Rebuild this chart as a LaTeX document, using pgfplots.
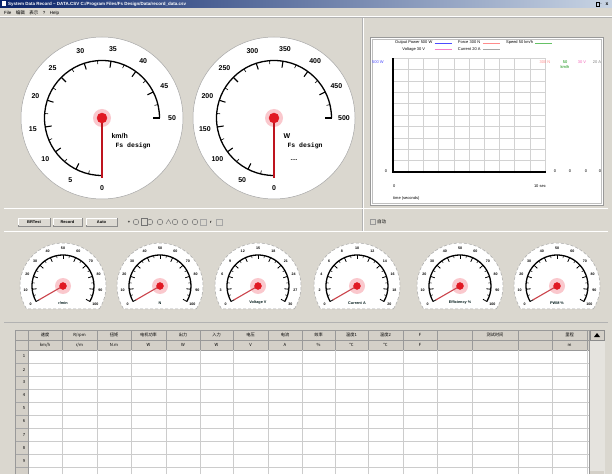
\documentclass[border=0pt]{standalone}
\usepackage{pgfplots}
\usepackage{pgfplotstable}
\pgfplotsset{compat=1.18}
\usepackage{fontspec}
\setmainfont{Liberation Sans}
\setmonofont{Liberation Mono}
\newfontfamily\cjk{Noto Sans CJK SC}
\definecolor{winbg}{RGB}{218,215,207}
\definecolor{hdrbg}{RGB}{212,208,200}
\definecolor{titleA}{RGB}{10,36,106}
\definecolor{titleB}{RGB}{200,212,228}
\definecolor{needle}{RGB}{190,20,30}
\definecolor{hub}{RGB}{225,25,35}
\definecolor{glow}{RGB}{250,200,205}

% gauge values (current readings)
\def\valA{0}   % km/h
\def\valB{0}   % W
\pgfplotstableread{
id max value
1 100 0
2 100 0
3 30 0
4 20 0
5 100 0
6 100 0
}\smallgauges

\newcommand\biggauge[6]{% cx cy max unit extra value
\begin{scope}[shift={(#1,#2)}]
 \fill[white] (0,0) circle (81);
 \draw[gray!70,line width=0.5pt] (0,0) circle (81);
 \draw[line width=1.3pt] (0,-57.5) arc[start angle=-90,end angle=-360,radius=57.5];
 \foreach \i in {0,...,10}{
   \draw[line width=1.1pt] ({270-27*\i}:57.5) -- ({270-27*\i}:51);
   \pgfmathtruncatemacro\v{\i*#3/10}
   \node[font=\fontsize{7}{8}\selectfont\bfseries] at ({270-27*\i}:70) {\v};
 }
 \foreach \i in {0,...,9}{
   \draw[line width=0.6pt] ({270-27*\i-13.5}:57.5) -- ({270-27*\i-13.5}:54);
 }
 \fill[glow] (0,0) circle (9);
 \node[anchor=west,font=\fontsize{7}{8}\selectfont\bfseries] at (6,-18) {#4};
 \node[anchor=west,font=\fontsize{6.5}{7}\selectfont\ttfamily\bfseries] at (10,-28) {Fs design};
 #5
\end{scope}
\begin{axis}[at={(#1pt,#2pt)},anchor=center,scale only axis,width=162pt,height=162pt,
  xmin=-81,xmax=81,ymin=-81,ymax=81,hide axis,clip=false]
 \addplot[data cs=polar,needle,line width=1.3pt] coordinates {(0,0) ({270-270*#6/#3},60)};
 \addplot[only marks,mark=*,mark size=5pt,hub,mark options={draw=hub}] coordinates {(0,0)};
\end{axis}
}

\newcommand\smallgauge[5]{% cx cy max label value
\begin{scope}[shift={(#1,#2)}]
 \fill[white] (-32.3:43) arc[start angle=-32.3,end angle=212.3,radius=43] -- cycle;
 \draw[gray!70,line width=0.5pt,densely dashed] (-32.3:43) arc[start angle=-32.3,end angle=212.3,radius=43] -- cycle;
 \fill[glow] (0,0) circle (8);
 \draw[line width=1.3pt] (210:31) arc[start angle=210,end angle=-30,radius=31];
 \foreach \i in {0,...,10}{
   \draw[line width=0.8pt] ({210-24*\i}:31) -- ({210-24*\i}:26.5);
   \pgfmathtruncatemacro\v{\i*#3/10}
   \node[font=\fontsize{3.6}{4}\selectfont\bfseries] at ({210-24*\i}:37.5) {\v};
 }
 \foreach \i in {0,...,9}{
   \draw[line width=0.5pt] ({210-24*\i-12}:31) -- ({210-24*\i-12}:28.5);
 }
 \node[font=\fontsize{3.8}{4}\selectfont\bfseries,text=black!80!teal] at (0,-17) {#4};
\end{scope}
\begin{axis}[at={(#1pt,#2pt)},anchor=center,scale only axis,width=86pt,height=86pt,
  xmin=-43,xmax=43,ymin=-43,ymax=43,hide axis,clip=false]
 \addplot[data cs=polar,needle!80!white,line width=1.1pt] coordinates {(0,0) ({210-240*#5/#3},28)};
 \addplot[only marks,mark=*,mark size=3.5pt,hub,mark options={draw=hub}] coordinates {(0,0)};
\end{axis}
}

\begin{document}
\begin{tikzpicture}[x=1pt,y=1pt]
\useasboundingbox (0,0) rectangle (612,474);
% window background
\fill[winbg] (0,0) rectangle (612,474);
% title bar
\shade[left color=titleA,right color=titleB] (0,466) rectangle (612,474);
\node[anchor=west,text=white,font=\fontsize{4.5}{5}\selectfont\bfseries,inner sep=0pt] at (8,470) {System Data Record -- DATA.CSV  C:/Program Files/Fs Design/Data/record\_data.csv};
\fill[white] (1.5,467.5) rectangle (6,472.5);
\node[anchor=east,font=\fontsize{5}{5}\selectfont\bfseries,inner sep=0pt] at (602,470) {\_};
\draw[black,line width=0.4pt] (596,467.5) rectangle (599.5,471.5);
\node[font=\fontsize{5}{5}\selectfont\bfseries,inner sep=0pt] at (607,470) {x};
% menu bar
\node[anchor=west,font=\fontsize{4.5}{5}\selectfont,inner sep=0pt] at (4,461) {File\quad {\cjk 编辑}\quad {\cjk 表示}\quad ?\quad Help};
\draw[white] (0,457.5) -- (612,457.5);
\draw[gray!60] (0,457) -- (612,457);
% separators
\draw[gray!60] (362,243) -- (362,456);
\draw[white] (363,243) -- (363,456);
\draw[gray!60] (4,266) -- (608,266);
\draw[white] (4,265.5) -- (608,265.5);
\draw[gray!60] (4,243) -- (608,243);
\draw[white] (4,242.5) -- (608,242.5);
\draw[gray!60] (4,152) -- (608,152);

% big gauges
\biggauge{102}{356}{50}{km/h}{}{\valA}
\biggauge{274}{356}{500}{W}{\node[font=\fontsize{6}{6}\selectfont\bfseries] at (20,-42) {....};}{\valB}

% chart panel
\fill[white] (370,269) rectangle (603,437);
\draw[gray!80,line width=0.6pt] (370,269) rectangle (603,437);
\draw[gray!50] (372,271) rectangle (601,435);
\begin{axis}[at={(393pt,302pt)},anchor=south west,scale only axis,width=152pt,height=114pt,
  xmin=0,xmax=10,ymin=0,ymax=10,axis lines=left,axis on top,
  axis line style={-,line width=1.3pt},
  xtick={0,...,10},ytick={0,...,10},xticklabels={},yticklabels={},
  grid=major,major grid style={gray!35,line width=0.35pt},
  tick style={black,line width=0.6pt},major tick length=2.5pt,
  legend columns=3,legend plot pos=right,
  legend style={at={(0,1.035)},anchor=south west,draw=none,fill=none,
    font=\fontsize{4}{4.5}\selectfont,inner sep=0pt,row sep=-2pt,
    /tikz/every even column/.append style={column sep=4pt}},
  legend image post style={line width=0.5pt}]
 \addplot[blue!70,line width=0.5pt] coordinates {(0,0) (10,0)};
 \addlegendentry{Output Power 500 W}
 \addplot[red!45,line width=0.5pt] coordinates {(0,0) (10,0)};
 \addlegendentry{Force 300 N}
 \addplot[green!60!black!60,line width=0.5pt] coordinates {(0,0) (10,0)};
 \addlegendentry{Speed 50 km/h}
 \addplot[magenta!50,line width=0.5pt] coordinates {(0,0) (10,0)};
 \addlegendentry{Voltage 30 V}
 \addplot[gray!70,line width=0.5pt] coordinates {(0,0) (10,0)};
 \addlegendentry{Current 20 A}
\end{axis}
\begin{scope}[font=\fontsize{4}{4.5}\selectfont,inner sep=0pt]
 \node[anchor=west,text=blue!70] at (372,412) {500 W};
 \node[text=red!45] at (545,412) {300 N};
 \node[text=green!55!black] at (565,412) {50};
 \node[text=green!55!black] at (565,407) {km/h};
 \node[text=magenta!60] at (582,412) {30 V};
 \node[text=gray] at (597,412) {20 A};
 \node at (386,303) {0};
 \node at (555,303) {0};
 \node at (570,303) {0};
 \node at (586,303) {0};
 \node at (600,303) {0};
 \node[anchor=west] at (393,288) {0};
 \node[anchor=east] at (546,288) {10 sec};
 \node[anchor=west] at (393,276) {time (seconds)};
\end{scope}

% button row
\begin{scope}[font=\fontsize{4}{4.5}\selectfont\bfseries,inner sep=0pt]
 \foreach \xa/\xb/\t in {18/50/BRTest,53/82/Record,86/117/Auto}{
   \fill[hdrbg!80!white] (\xa,248) rectangle (\xb,256);
   \draw[gray!90] (\xa,248) rectangle (\xb,256);
   \draw[white] (\xa+0.5,248.5) -- (\xa+0.5,255.5) -- (\xb-0.5,255.5);
   \node at ({(\xa+\xb)/2},252) {\t};
 }
 \node at (129,252) {+};
 \foreach \x in {136,150,160,175,185,195}{
   \draw[gray!90!black,line width=0.5pt] (\x,252) circle (2.8);
 }
 \draw[gray!90!black] (141,248.5) rectangle (147,255.5);
 \draw[gray!90!black] (166,250) -- (168.5,254.5) -- (171,250);
 \draw[gray!70] (200,249) rectangle (206,255);
 \node at (211,252) {r};
 \draw[gray!70] (216,249) rectangle (222,255);
 \draw[gray!80] (370,249.5) rectangle (375,254.5);
 \node[anchor=west,font=\fontsize{4.5}{5}\selectfont\cjk] at (377,252) {自动};
\end{scope}

% small gauges
\pgfplotstablegetelem{0}{max}\of\smallgauges \let\mA\pgfplotsretval
\pgfplotstablegetelem{0}{value}\of\smallgauges \let\vA\pgfplotsretval
\smallgauge{63}{188}{\mA}{r/min}{\vA}
\pgfplotstablegetelem{1}{max}\of\smallgauges \let\mB\pgfplotsretval
\pgfplotstablegetelem{1}{value}\of\smallgauges \let\vB\pgfplotsretval
\smallgauge{160}{188}{\mB}{N}{\vB}
\pgfplotstablegetelem{2}{max}\of\smallgauges \let\mC\pgfplotsretval
\pgfplotstablegetelem{2}{value}\of\smallgauges \let\vC\pgfplotsretval
\smallgauge{258}{188}{\mC}{Voltage V}{\vC}
\pgfplotstablegetelem{3}{max}\of\smallgauges \let\mD\pgfplotsretval
\pgfplotstablegetelem{3}{value}\of\smallgauges \let\vD\pgfplotsretval
\smallgauge{357}{188}{\mD}{Current A}{\vD}
\pgfplotstablegetelem{4}{max}\of\smallgauges \let\mE\pgfplotsretval
\pgfplotstablegetelem{4}{value}\of\smallgauges \let\vE\pgfplotsretval
\smallgauge{460}{188}{\mE}{Efficiency \%}{\vE}
\pgfplotstablegetelem{5}{max}\of\smallgauges \let\mF\pgfplotsretval
\pgfplotstablegetelem{5}{value}\of\smallgauges \let\vF\pgfplotsretval
\smallgauge{557}{188}{\mF}{PWM \%}{\vF}

% table
\fill[white] (15,0) rectangle (589,124);
\fill[hdrbg] (15,124) rectangle (589,144);
\fill[hdrbg] (15,0) rectangle (28,124);
\foreach \y in {7,20,33,46,59,72,85,98,111}{
  \draw[gray!40,line width=0.4pt] (28,\y) -- (589,\y);
  \draw[gray!70,line width=0.4pt] (15,\y) -- (28,\y);
}
\draw[gray!80] (15,124) -- (589,124);
\draw[gray!80] (15,134) -- (589,134);
\draw[gray!80] (15,144) -- (605,144);
\foreach \x in {62,97,131,166,200,233,268,302,335,368,403,437,472,518,552,587}{
  \draw[gray!40,line width=0.4pt] (\x,0) -- (\x,124);
  \draw[gray!80,line width=0.4pt] (\x,124) -- (\x,144);
}
\draw[gray!80] (15,0) -- (15,144);
\draw[gray!80] (28,0) -- (28,144);
\begin{scope}[font=\fontsize{4.2}{4.5}\selectfont\cjk,inner sep=0pt]
\foreach \xa/\xb/\ta/\tb in {28/62/{速度}/{km/h},62/97/{R/rpm}/{r/m},97/131/{扭矩}/{N.m},
  131/166/{电机功率}/{W},166/200/{出力}/{W},200/233/{入力}/{W},233/268/{电压}/{V},
  268/302/{电流}/{A},302/335/{效率}/{\%},335/368/{温度1}/{℃},368/403/{温度2}/{℃},
  403/437/{F}/{F},437/472/{}/{},472/518/{测试时间}/{},518/552/{}/{},552/587/{里程}/{m}}{
  \node at ({(\xa+\xb)/2},139) {\ta};
  \node at ({(\xa+\xb)/2},129) {\tb};
}
\foreach \n/\y in {1/117.5,2/104.5,3/91.5,4/78.5,5/65.5,6/52.5,7/39.5,8/26.5,9/13.5}{
  \node at (24,\y) {\n};
}
\end{scope}
% scrollbar
\fill[hdrbg!60!white] (589,0) rectangle (605,144);
\draw[gray!80] (589,0) -- (589,144);
\fill[hdrbg] (590,134) rectangle (604,144);
\draw[gray!90] (590,134) rectangle (604,144);
\fill[black] (594,137) -- (600,137) -- (597,141) -- cycle;
\fill[hdrbg] (590,0) rectangle (604,3);
\end{tikzpicture}
\end{document}
